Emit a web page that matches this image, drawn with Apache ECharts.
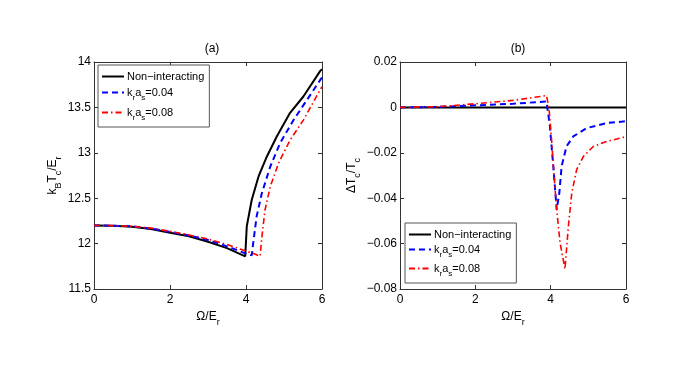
<!DOCTYPE html>
<html>
<head>
<meta charset="utf-8">
<script src="https://cdn.jsdelivr.net/npm/echarts@6/dist/echarts.min.js"></script>
<style>
  html, body { margin: 0; padding: 0; background: #fff; }
  #chart { width: 692px; height: 365px; }
</style>
</head>
<body>
<div id="chart"></div>
<script>
  // panel (a): k_B T_c / E_r versus Omega / E_r
  var aFreeX = [0, 0.5, 1, 1.5, 2, 2.5, 3, 3.5, 3.98, 4.02, 4.15, 4.33, 4.55, 4.81, 5.16, 5.51, 5.95, 6]
  var aFreeY = [12.2, 12.196, 12.185, 12.16, 12.12, 12.08, 12.02, 11.95, 11.86, 12.19, 12.48, 12.74, 12.96, 13.18, 13.44, 13.62, 13.9, 13.92]
  var aWeakX = [0, 0.5, 1, 1.5, 2, 2.5, 3, 3.5, 4, 4.15, 4.2, 4.28, 4.42, 4.64, 4.9, 5.25, 5.6, 5.95, 6]
  var aWeakY = [12.2, 12.197, 12.19, 12.165, 12.13, 12.09, 12.04, 11.97, 11.89, 11.87, 12.04, 12.3, 12.56, 12.85, 13.11, 13.36, 13.58, 13.8, 13.83]
  var aStrongX = [0, 0.5, 1, 1.5, 2, 2.5, 3, 3.5, 3.98, 4.2, 4.37, 4.42, 4.5, 4.64, 4.86, 5.16, 5.51, 6]
  var aStrongY = [12.2, 12.198, 12.19, 12.17, 12.135, 12.095, 12.05, 11.99, 11.92, 11.89, 11.86, 12.08, 12.37, 12.63, 12.89, 13.14, 13.36, 13.73]

  // panel (b): Delta T_c / T_c versus Omega / E_r
  var bFreeX = [0, 6]
  var bFreeY = [0, 0]
  var bWeakX = [0, 1, 2, 3, 3.89, 3.98, 4.07, 4.16, 4.23, 4.29, 4.42, 4.6, 4.96, 5.49, 5.93, 6]
  var bWeakY = [0, 0.0002, 0.0009, 0.0016, 0.0026, -0.0084, -0.026, -0.045, -0.0377, -0.026, -0.0172, -0.0128, -0.0091, -0.0069, -0.0062, -0.0061]
  var bStrongX = [0, 1, 2, 3, 3.89, 3.96, 4.03, 4.09, 4.16, 4.25, 4.38, 4.47, 4.56, 4.69, 4.87, 5.13, 5.49, 5.93, 6]
  var bStrongY = [0, 0.0003, 0.0016, 0.0031, 0.0052, -0.001, -0.0157, -0.03, -0.045, -0.0597, -0.0712, -0.0524, -0.0377, -0.0274, -0.0216, -0.0172, -0.015, -0.0132, -0.013]

  var names = ['Non-interacting', 'k_r a_s=0.04', 'k_r a_s=0.08']
  var xTicks = [0, 6, 2]
  var aTicks = [11.5, 14, 0.5]
  var bTicks = [-0.08, 0.02, 0.02]

  function zip(xs, ys) {
    return xs.map(function (x, i) { return [x, ys[i]] })
  }

  var font = 'Liberation Sans, Arial, sans-serif'
  var sub = {
    n: { fontSize: 12, fontFamily: font, color: '#000', lineHeight: 14 },
    s: { fontSize: 9, fontFamily: font, color: '#000', lineHeight: 9, verticalAlign: 'bottom', padding: [0, 0, -3, 0] }
  }
  var legendSub = {
    n: { fontSize: 11, fontFamily: font, color: '#000', lineHeight: 13 },
    s: { fontSize: 8, fontFamily: font, color: '#000', lineHeight: 8, verticalAlign: 'bottom', padding: [0, 0, -3, 0] }
  }

  function minus(v) {
    return String(v).replace('-', '\u2212')
  }

  function xAxes(g) {
    var base = {
      type: 'value', gridIndex: g, min: xTicks[0], max: xTicks[1], interval: xTicks[2],
      splitLine: { show: false },
      axisLine: { onZero: false, lineStyle: { color: '#333', width: 1 } },
      axisTick: { inside: true, length: 4, lineStyle: { color: '#333' } }
    }
    return [
      Object.assign({}, base, {
        position: 'bottom',
        axisLabel: { color: '#000', fontSize: 12, fontFamily: font, margin: 5 },
        name: '{n|\u03a9/E}{s|r}', nameLocation: 'middle', nameGap: 21,
        nameTextStyle: { rich: sub }
      }),
      Object.assign({}, base, { position: 'top', axisLabel: { show: false } })
    ]
  }

  function yAxes(g, t, label, gap) {
    var base = {
      type: 'value', gridIndex: g, min: t[0], max: t[1], interval: t[2],
      splitLine: { show: false },
      axisLine: { onZero: false, lineStyle: { color: '#333', width: 1 } },
      axisTick: { inside: true, length: 4, lineStyle: { color: '#333' } }
    }
    return [
      Object.assign({}, base, {
        position: 'left',
        axisLabel: { color: '#000', fontSize: 12, fontFamily: font, margin: 3, formatter: minus },
        name: label, nameLocation: 'middle', nameGap: gap,
        nameTextStyle: { rich: sub }
      }),
      Object.assign({}, base, { position: 'right', axisLabel: { show: false } })
    ]
  }

  function line(name, g, data, color, type, width) {
    return {
      name: name, type: 'line', xAxisIndex: g * 2, yAxisIndex: g * 2,
      data: data, symbol: 'none', silent: true, animation: false,
      lineStyle: { color: color, type: type, width: width },
      itemStyle: { color: color }
    }
  }

  function legend(left, top, gap) {
    return {
      left: left, top: top, orient: 'vertical',
      data: names,
      itemWidth: 22, itemHeight: 8, itemGap: gap,
      padding: [6, 5, 5, 3],
      borderColor: '#555', borderWidth: 1,
      backgroundColor: '#fff',
      selectedMode: false,
      itemStyle: { opacity: 0, borderWidth: 0 },
      formatter: function (n) {
        if (n === names[0]) return '{n|Non\u2212interacting}'
        return '{n|k}{s|r}{n|a}{s|s}{n|=' + n.split('=')[1] + '}'
      },
      textStyle: { rich: legendSub, padding: [0, 0, 0, -2] }
    }
  }

  var chart = echarts.init(document.getElementById('chart'))
  chart.setOption({
    backgroundColor: '#fff',
    animation: false,
    title: [
      { text: '(a)', left: 207, top: 38, textAlign: 'center', textStyle: { fontSize: 12, fontWeight: 'normal', fontFamily: font, color: '#000' } },
      { text: '(b)', left: 513, top: 38, textAlign: 'center', textStyle: { fontSize: 12, fontWeight: 'normal', fontFamily: font, color: '#000' } }
    ],
    grid: [
      { left: 94, top: 62, width: 228, height: 227 },
      { left: 400, top: 62, width: 226, height: 227 }
    ],
    legend: [legend(98, 65, 5), legend(405, 223, 4)],
    xAxis: xAxes(0).concat(xAxes(1)),
    yAxis: yAxes(0, aTicks, '{n|k}{s|B}{n|T}{s|c}{n|/E}{s|r}', 34)
      .concat(yAxes(1, bTicks, '{n|\u0394T}{s|c}{n|/T}{s|c}', 41)),
    series: [
      line(names[0], 0, zip(aFreeX, aFreeY), '#000', 'solid', 2),
      line(names[1], 0, zip(aWeakX, aWeakY), '#0000ff', [6, 4], 2),
      line(names[2], 0, zip(aStrongX, aStrongY), '#ff0000', [6, 3, 1.5, 3], 1.6),
      line(names[0], 1, zip(bFreeX, bFreeY), '#000', 'solid', 2),
      line(names[1], 1, zip(bWeakX, bWeakY), '#0000ff', [6, 4], 2),
      line(names[2], 1, zip(bStrongX, bStrongY), '#ff0000', [6, 3, 1.5, 3], 1.6)
    ]
  })
</script>
</body>
</html>
